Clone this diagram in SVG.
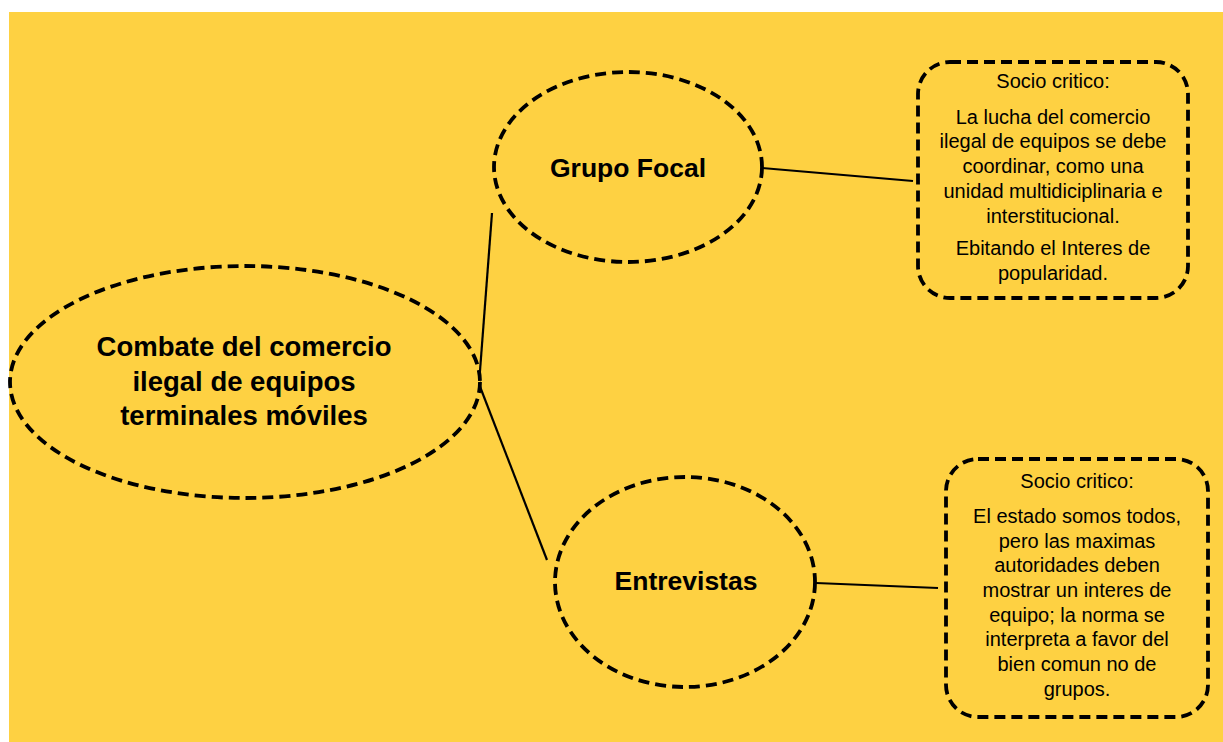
<svg xmlns="http://www.w3.org/2000/svg" width="1223" height="742" viewBox="0 0 1223 742">
<style>
.bg{fill:#fed142}
.node{fill:#fed142;stroke:#000;stroke-width:3.8;stroke-dasharray:11 6}
.conn{stroke:#000;stroke-width:2.2;fill:none}
.title{font-family:"Liberation Sans",Arial,sans-serif;font-weight:bold;text-anchor:middle;fill:#000}
.body{font-family:"Liberation Sans",Arial,sans-serif;font-size:20px;text-anchor:middle;fill:#000}
</style>
<rect x="0" y="0" width="1223" height="742" fill="#fff"/>
<rect class="bg" x="9" y="12" width="1214" height="730"/>
<g id="connectors">
<line class="conn" x1="479" y1="384" x2="492" y2="213"/>
<line class="conn" x1="479" y1="384" x2="547" y2="560"/>
<line class="conn" x1="762" y1="168" x2="913" y2="181"/>
<line class="conn" x1="816" y1="583" x2="938" y2="588"/>
</g>
<g id="main">
<ellipse class="node" cx="245" cy="382" rx="235" ry="116"/>
<text class="title" font-size="27.5" x="244" y="356">Combate del comercio</text>
<text class="title" font-size="27.5" x="244" y="391">ilegal de equipos</text>
<text class="title" font-size="27.5" x="244" y="425">terminales móviles</text>
</g>
<g id="grupo-focal">
<ellipse class="node" cx="628" cy="167" rx="134" ry="95"/>
<text class="title" font-size="26.5" x="628" y="177">Grupo Focal</text>
</g>
<g id="entrevistas">
<ellipse class="node" cx="685" cy="582" rx="130" ry="105"/>
<text class="title" font-size="26.5" x="686" y="590">Entrevistas</text>
</g>
<g id="box-grupo-focal">
<rect class="node" x="918" y="62" width="270" height="236" rx="32" ry="32"/>
<text class="body" x="1053" y="88">Socio critico:</text>
<text class="body" x="1053" y="124">La lucha del comercio</text>
<text class="body" x="1053" y="148">ilegal de equipos se debe</text>
<text class="body" x="1053" y="173">coordinar, como una</text>
<text class="body" x="1053" y="198">unidad multidiciplinaria e</text>
<text class="body" x="1053" y="223">interstitucional.</text>
<text class="body" x="1053" y="255">Ebitando el Interes de</text>
<text class="body" x="1053" y="280">popularidad.</text>
</g>
<g id="box-entrevistas">
<rect class="node" x="946" y="459" width="262" height="258" rx="32" ry="32"/>
<text class="body" x="1077" y="488">Socio critico:</text>
<text class="body" x="1077" y="523">El estado somos todos,</text>
<text class="body" x="1077" y="548">pero las maximas</text>
<text class="body" x="1077" y="572">autoridades deben</text>
<text class="body" x="1077" y="597">mostrar un interes de</text>
<text class="body" x="1077" y="622">equipo; la norma se</text>
<text class="body" x="1077" y="646">interpreta a favor del</text>
<text class="body" x="1077" y="671">bien comun no de</text>
<text class="body" x="1077" y="696">grupos.</text>
</g>
</svg>
